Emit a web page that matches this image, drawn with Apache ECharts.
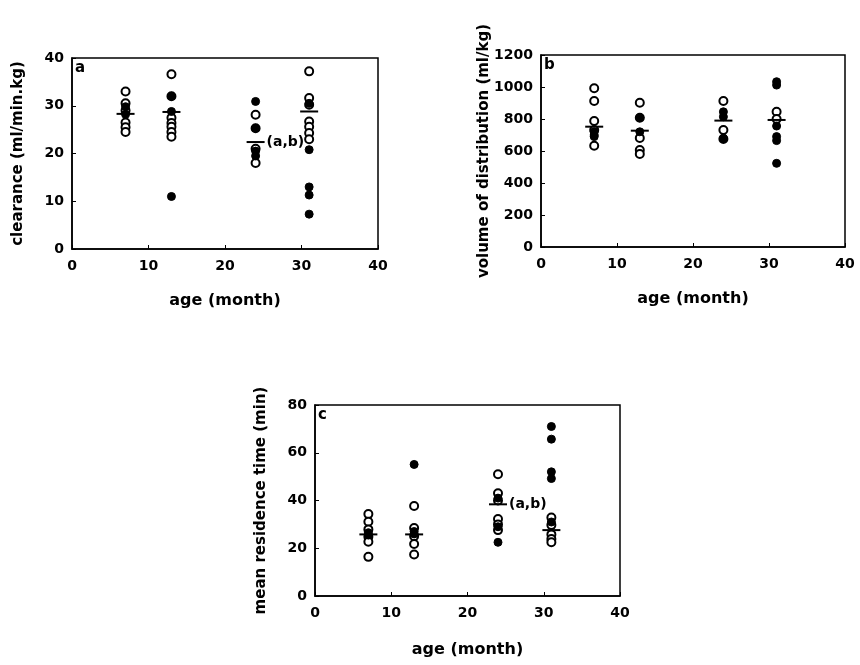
<!DOCTYPE html>
<html><head><meta charset="utf-8">
<script src="https://cdn.jsdelivr.net/npm/echarts@6/dist/echarts.min.js"></script>
<style>html,body{margin:0;padding:0;background:#fff}#c{width:860px;height:665px}</style>
</head><body><div id="c"></div>
<script>
const ages = [7, 13, 24, 31];
const xTicks = [0, 10, 20, 30, 40];

// Panel a: clearance (ml/min.kg)
const aOpen = [[33, 30.5, 29, 26.5, 25.5, 24.5],[36.6, 32, 27.5, 26.4, 25.6, 24.5, 23.5],[28.1, 25.3, 21, 18],[37.2, 31.6, 30.2, 26.7, 25.6, 24.3, 23]];
const aFilled = [[29.8, 28.2],[32, 28.8, 11],[30.9, 25.3, 20.5, 19.5],[30.5, 20.8, 13, 11.3, 7.3]];
const aMean = [28.3, 28.7, 22.4, 28.8];
// Panel b: volume of distribution (ml/kg)
const bOpen = [[992, 912, 787, 731, 633],[902, 808, 681, 606, 581],[912, 731, 675],[845, 800]];
const bFilled = [[700, 690, 720],[808, 720],[845, 814, 680],[1033, 1012, 756, 690, 665, 523]];
const bMean = [752, 727, 790, 794];
// Panel c: mean residence time (min)
const cOpen = [[34.3, 31.1, 27.9, 24.8, 22.7, 16.4],[37.7, 28.5, 25, 21.8, 17.4],[51, 43, 40, 32.2, 30, 27.6],[32.9, 29.7, 25.8, 23.9, 22.5]];
const cFilled = [[26.5, 25.5],[55.1, 27, 26],[41, 29, 22.5],[71, 65.7, 52, 49.2, 31]];
const cMean = [25.8, 25.8, 38.4, 27.6];
const sigLabel = '(a,b)';
const aSig = [false, false, true, false];
const cSig = [false, false, true, false];

const F = 'DejaVu Sans';
function pts(groups){const r=[];groups.forEach((g,i)=>g.forEach(v=>r.push([ages[i],v])));return r;}
function meanPts(m, sig){return m.map((v,i)=>{const d={value:[ages[i],v]};if(sig&&sig[i]){d.label={show:true,position:'right',distance:2,formatter:sigLabel,color:'#000',opacity:1,fontFamily:F,fontWeight:'bold',fontSize:14};}return d;});}

const grids=[{left:72,top:58,width:306,height:191},{left:541,top:55,width:304,height:192},{left:315,top:405,width:305,height:191}];
function xAx(i){return {gridIndex:i,type:'value',min:0,max:40,interval:10,name:'age (month)',nameLocation:'middle',nameGap:i==2?46:44,nameMoveOverlap:false,
 nameTextStyle:{fontFamily:F,fontWeight:'bold',fontSize:16,color:'#000'},
 axisLine:{lineStyle:{color:'#000',width:1.5}},axisTick:{inside:true,length:4,lineStyle:{color:'#000'}},
 axisLabel:{color:'#000',fontFamily:F,fontWeight:'bold',fontSize:14,margin:10,formatter:v=>String(v)},splitLine:{show:false}};}
function yAx(i,max,interval,name,gap){return {gridIndex:i,type:'value',min:0,max:max,interval:interval,name:name,nameLocation:'middle',nameGap:gap,nameMoveOverlap:false,
 nameTextStyle:{fontFamily:F,fontWeight:'bold',fontSize:15,color:'#000'},
 axisLine:{lineStyle:{color:'#000',width:1.5}},axisTick:{inside:true,length:4,lineStyle:{color:'#000'}},
 axisLabel:{color:'#000',fontFamily:F,fontWeight:'bold',fontSize:14,margin:8,formatter:v=>String(v)},splitLine:{show:false}};}

const openStyle={color:'#fff',borderColor:'#000',borderWidth:2,opacity:1};
const fillStyle={color:'#000',borderColor:'#000',borderWidth:1,opacity:1};
function panelSeries(i,open,filled,mean,sig){return [
 {type:'scatter',xAxisIndex:i,yAxisIndex:i,symbol:'circle',symbolSize:8,itemStyle:openStyle,data:pts(open),z:3},
 {type:'scatter',xAxisIndex:i,yAxisIndex:i,symbol:'circle',symbolSize:8,itemStyle:fillStyle,data:pts(filled),z:4},
 {type:'scatter',xAxisIndex:i,yAxisIndex:i,symbol:'rect',symbolSize:[18,2],itemStyle:{color:'#000',opacity:1},data:meanPts(mean,sig),z:5}
];}

const chart=echarts.init(document.getElementById('c'),null,{renderer:'canvas'});
chart.setOption({
 animation:false,backgroundColor:'#fff',
 grid:grids.map(g=>Object.assign({show:true,borderColor:'#000',borderWidth:1.5,backgroundColor:'transparent'},g)),
 xAxis:[xAx(0),xAx(1),xAx(2)],
 yAxis:[yAx(0,40,10,'clearance (ml/min.kg)',46),yAx(1,1200,200,'volume of distribution (ml/kg)',49),yAx(2,80,20,'mean residence time (min)',46)],
 graphic:[
  {type:'text',left:75,top:61,style:{text:'a',font:'bold 15px "DejaVu Sans"',fill:'#000'}},
  {type:'text',left:544,top:58,style:{text:'b',font:'bold 15px "DejaVu Sans"',fill:'#000'}},
  {type:'text',left:318,top:408,style:{text:'c',font:'bold 15px "DejaVu Sans"',fill:'#000'}}
 ],
 series:[].concat(panelSeries(0,aOpen,aFilled,aMean,aSig),panelSeries(1,bOpen,bFilled,bMean,null),panelSeries(2,cOpen,cFilled,cMean,cSig))
});
</script></body></html>
